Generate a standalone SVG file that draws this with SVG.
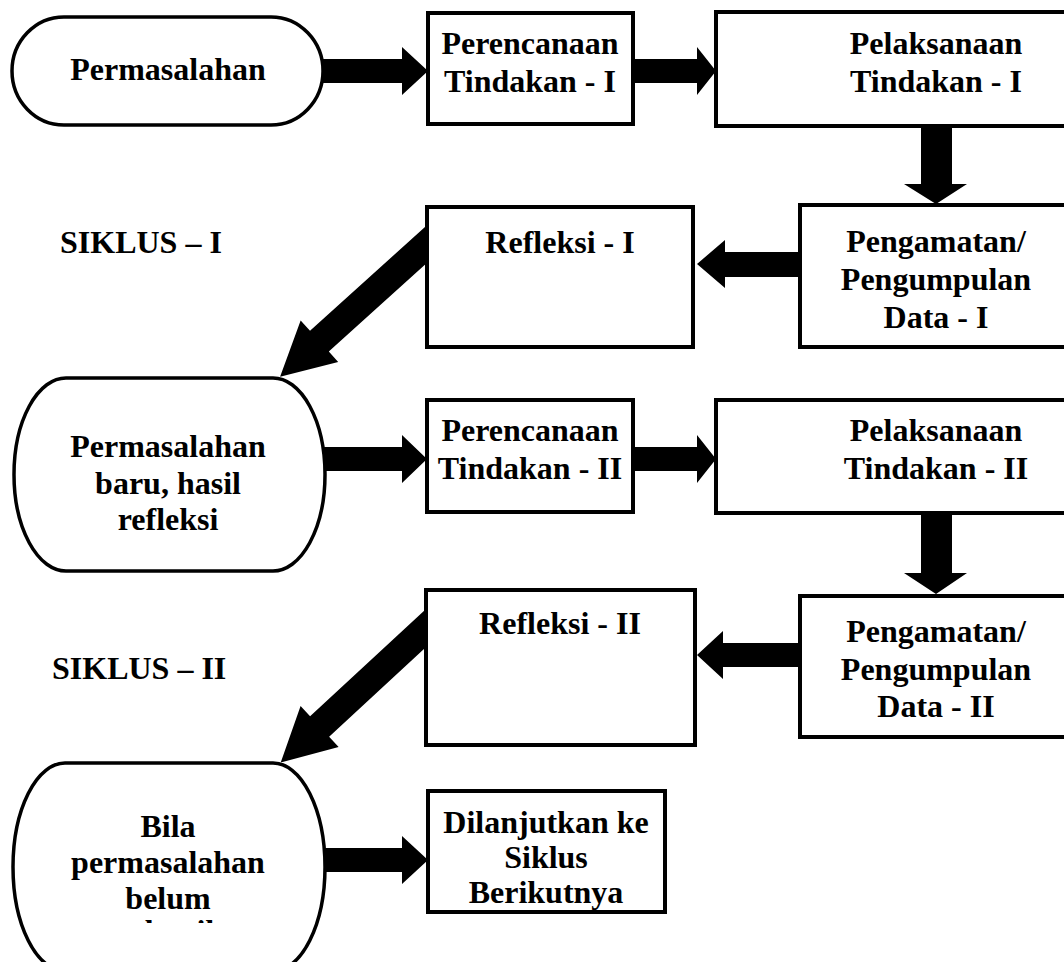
<svg xmlns="http://www.w3.org/2000/svg" width="1064" height="962" viewBox="0 0 1064 962">
<style>
.box{fill:#fff;stroke:#000;stroke-width:4}
.term{fill:#fff;stroke:#000;stroke-width:3.5}
.arr{fill:#000;stroke:none}
.t{font-family:"Liberation Serif","Times New Roman",serif;font-weight:bold;font-size:32px;text-anchor:middle;fill:#000}
.l{font-family:"Liberation Serif","Times New Roman",serif;font-weight:bold;font-size:32px;fill:#000}
</style>
<defs>
<polygon id="diag" points="-20,-14 145,-14 145,-28 198,0 145,28 145,14 -20,14"/>
<clipPath id="clip3"><rect x="0" y="760" width="340" height="163"/></clipPath>
</defs>
<rect width="1064" height="962" fill="#fff"/>
<g id="connectors" class="arr">
<polygon points="320,59 402,59 402,47 428,71 402,95 402,83 320,83"/>
<polygon points="630,59 697,59 697,47 716,71 697,95 697,83 630,83"/>
<polygon points="921,122 952,122 952,184 967,184 936,204 904,184 921,184"/>
<polygon points="804,252 725,252 725,240 697,264 725,288 725,277 804,277"/>
<use href="#diag" transform="translate(427 244) rotate(137.9)"/>
<polygon points="320,447 402,447 402,435 427,459 402,483 402,471 320,471"/>
<polygon points="630,447 697,447 697,435 716,459 697,483 697,471 630,471"/>
<polygon points="921,510 952,510 952,573 967,573 936,594 904,573 921,573"/>
<polygon points="804,643 723,643 723,631 697,655 723,679 723,667 804,667"/>
<use href="#diag" transform="translate(426 628) rotate(137.2)"/>
<polygon points="320,848 402,848 402,836 428,860 402,884 402,872 320,872"/>
</g>
<g id="n-permasalahan">
<path class="term" d="M64,17 H271 A52,54 0 0 1 271,125 H64 A52,54 0 0 1 64,17 Z"/>
<text class="t" x="168" y="80">Permasalahan</text>
</g>
<g id="n-perencanaan1">
<rect class="box" x="428" y="13" width="205" height="111"/>
<text class="t" x="530" y="54">Perencanaan</text>
<text class="t" x="530" y="92">Tindakan - I</text>
</g>
<g id="n-pelaksanaan1">
<rect class="box" x="716" y="12" width="440" height="114"/>
<text class="t" x="936" y="54">Pelaksanaan</text>
<text class="t" x="936" y="92">Tindakan - I</text>
</g>
<g id="n-pengamatan1">
<rect class="box" x="800" y="205" width="272" height="142"/>
<text class="t" x="936" y="252">Pengamatan/</text>
<text class="t" x="936" y="290">Pengumpulan</text>
<text class="t" x="936" y="328">Data - I</text>
</g>
<g id="n-refleksi1">
<rect class="box" x="427" y="207" width="266" height="140"/>
<text class="t" x="560" y="253">Refleksi - I</text>
</g>
<g id="siklus1">
<text class="l" x="60" y="253">SIKLUS – I</text>
</g>
<g id="n-permasalahan-baru">
<path class="term" d="M66,378 H273 A52,96.5 0 0 1 273,571 H66 A52,96.5 0 0 1 66,378 Z"/>
<text class="t" x="168" y="457">Permasalahan</text>
<text class="t" x="168" y="494">baru, hasil</text>
<text class="t" x="168" y="530">refleksi</text>
</g>
<g id="n-perencanaan2">
<rect class="box" x="427" y="400" width="206" height="112"/>
<text class="t" x="530" y="441">Perencanaan</text>
<text class="t" x="530" y="479">Tindakan - II</text>
</g>
<g id="n-pelaksanaan2">
<rect class="box" x="716" y="400" width="440" height="113"/>
<text class="t" x="936" y="441">Pelaksanaan</text>
<text class="t" x="936" y="479">Tindakan - II</text>
</g>
<g id="n-pengamatan2">
<rect class="box" x="800" y="596" width="272" height="141"/>
<text class="t" x="936" y="642">Pengamatan/</text>
<text class="t" x="936" y="680">Pengumpulan</text>
<text class="t" x="936" y="717">Data - II</text>
</g>
<g id="n-refleksi2">
<rect class="box" x="426" y="590" width="269" height="155"/>
<text class="t" x="560" y="634">Refleksi - II</text>
</g>
<g id="siklus2">
<text class="l" x="52" y="679">SIKLUS – II</text>
</g>
<g id="n-bila">
<path class="term" d="M65,763 H273 A52,104 0 0 1 273,971 H65 A52,104 0 0 1 65,763 Z"/>
<text class="t" x="168" y="837">Bila</text>
<text class="t" x="168" y="873">permasalahan</text>
<text class="t" x="168" y="909">belum</text>
<text class="t" x="168" y="942" clip-path="url(#clip3)">terselesaikan</text>
</g>
<g id="n-dilanjutkan">
<rect class="box" x="428" y="791" width="237" height="121"/>
<text class="t" x="546" y="833">Dilanjutkan ke</text>
<text class="t" x="546" y="868">Siklus</text>
<text class="t" x="546" y="903">Berikutnya</text>
</g>
</svg>
